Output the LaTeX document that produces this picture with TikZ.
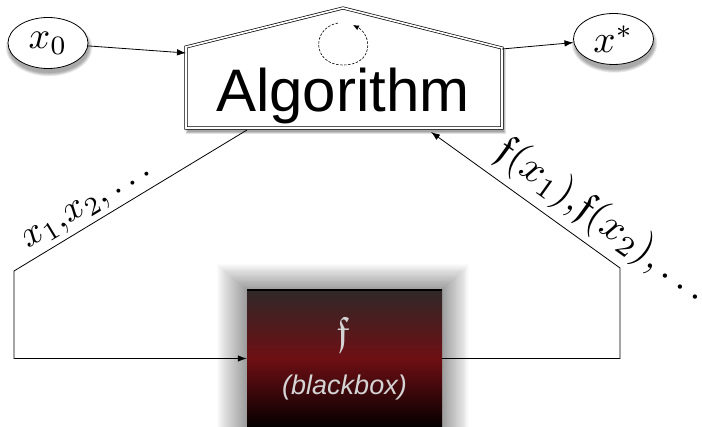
\documentclass[tikz,border=0pt]{standalone}
\usepackage{fontspec}
\usepackage{amsfonts}
\usepackage{graphicx}
\newfontfamily\helv{Liberation Sans}
\usetikzlibrary{arrows.meta,shapes.geometric}
\definecolor{bbtop}{HTML}{302828}
\definecolor{bbmid}{HTML}{6E0F14}
\definecolor{bbbot}{HTML}{050000}
\definecolor{bbtext}{HTML}{D4D4D4}
\begin{document}
\begin{tikzpicture}[x=1pt,y=-1pt,
  conn/.style={line width=0.8pt, draw=black},
  arr/.style={conn, -{Latex[length=9pt,width=6.5pt]}},
  oval/.style={ellipse, draw, line width=0.8pt, fill=white, minimum width=80pt, minimum height=51pt, inner sep=0pt},
  lbl/.style={inner sep=1pt},
  loopline/.style={line width=0.6pt, dash pattern=on 2.5pt off 1.5pt, -{Latex[length=6pt,width=5pt]}}
]
\useasboundingbox (0,0) rectangle (702,427);

% glow of the blackbox
\foreach \i in {1,...,30} {
  \fill[black, opacity=0.016] (247-\i,290-\i*0.85) rectangle (442+\i*0.9,430);
}
% shadows of ovals
\foreach \i in {0,...,4} {
  \fill[black, opacity=0.08] (49,47.5) ellipse [x radius={40pt+\i*0.8pt}, y radius={25.5pt+\i*0.8pt}];
  \fill[black, opacity=0.08] (614.5,43.5) ellipse [x radius={39.5pt+\i*0.8pt}, y radius={26pt+\i*0.8pt}];
}
% shadow of the algorithm box
\foreach \i in {0,...,3} {
  \fill[black, opacity=0.1] (187.5-\i*0.6,50-\i*0.6) -- (344.5,11-\i*0.6) -- (504+\i*0.6,51-\i*0.6) -- (504+\i*0.6,132+\i*0.6) -- (187.5-\i*0.6,132+\i*0.6) -- cycle;
}

% algorithm box
\draw[line width=0.7pt, double=white, double distance=1.7pt, fill=white]
  (186,47) -- (343,8) -- (502,48) -- (502,128) -- (186,128) -- cycle;
\node (alg) [minimum width=316pt, minimum height=81pt, inner sep=0pt] at (344,88) {};
\node (algtext) [anchor=base, inner sep=0pt] at (343,112) {\helv\fontsize{60}{60}\selectfont Algorithm};

% self loop
\coordinate (loopa) at (338,23);
\coordinate (loopb) at (353,25);
\draw[loopline] (loopa) .. controls (311,28) and (312,65) .. (343,65)
  .. controls (374,65) and (372,35) .. (loopb);

% ovals
\node[oval] (x0) at (48,43) {\scalebox{3.8}{$x_0$}};
\node[oval] (xs) at (613.5,39) {\scalebox{3.9}{$x^*$}};

% blackbox
\node (bb) [minimum width=195pt, minimum height=137pt, inner sep=0pt,
  shading=axis, top color=bbtop, bottom color=bbbot, middle color=bbmid] at (344.5,358.5) {};
\draw[line width=2pt] (bb.north west) -- (bb.north east);
\node (bbf) [inner sep=0pt, text=bbtext] at (343,334) {\scalebox{4}{$\mathfrak{f}$}};
\node (bbt) [anchor=base, inner sep=0pt, text=bbtext] at (344.5,395) {\helv\itshape\fontsize{27}{27}\selectfont (blackbox)};

% connectors
\coordinate (algin) at (186,53);
\coordinate (algout) at (502,49);
\draw[arr] (x0) -- (algin);
\draw[arr] (algout) -- (xs);

\coordinate (lb) at (247,130);
\coordinate (lc1) at (14,271);
\coordinate (lc2) at (14,358.5);
\draw[arr] (lb) -- node[lbl, sloped, above=3pt, pos=0.645] {\scalebox{3.7}{$x_1{,}x_2{,}\ldots$}} (lc1) -- (lc2) -- (bb.west);

\coordinate (rb1) at (620,358.5);
\coordinate (rb2) at (620,268);
\coordinate (ralg) at (431,132);
\draw[arr] (bb.east) -- (rb1) -- (rb2) -- node[lbl, sloped, above=6pt, pos=0.18] {\scalebox{4.1}{$\mathfrak{f}(x_1){,}\mathfrak{f}(x_2){,}\ldots$}} (ralg);
\end{tikzpicture}
\end{document}
